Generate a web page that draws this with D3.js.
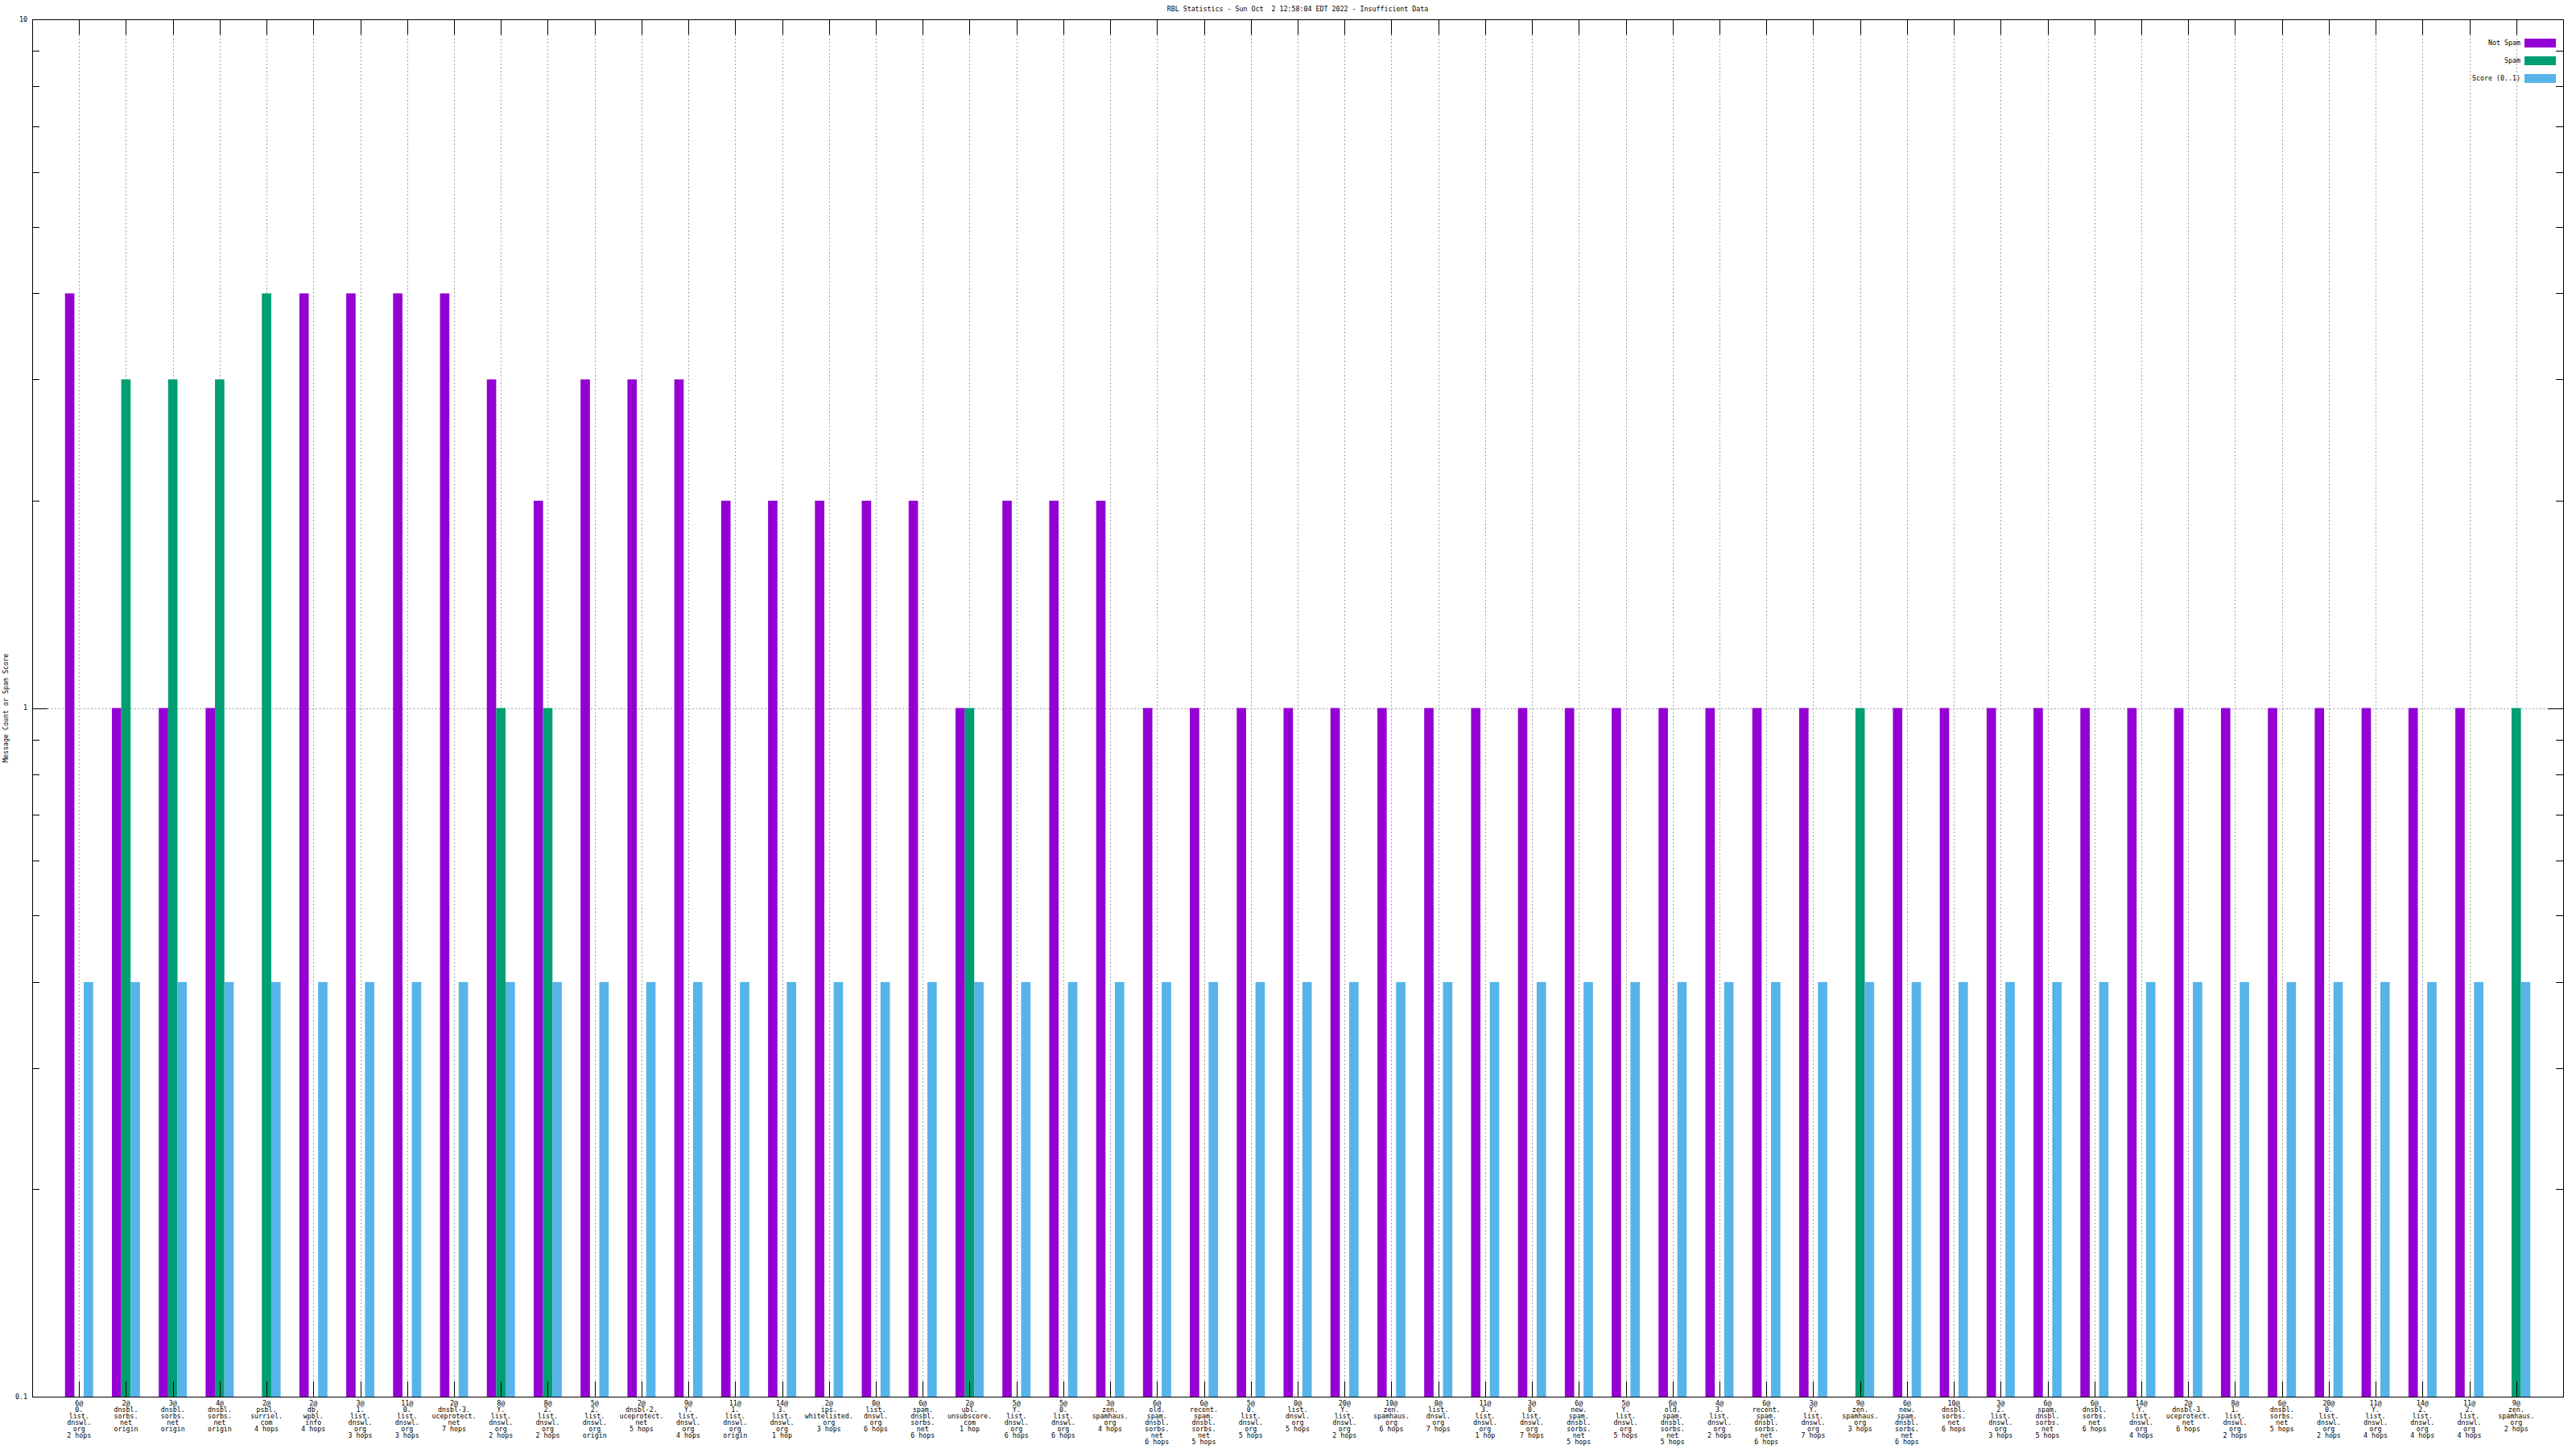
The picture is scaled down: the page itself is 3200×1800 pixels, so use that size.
<!DOCTYPE html>
<html>
<head>
<meta charset="utf-8">
<script src="https://cdn.jsdelivr.net/npm/d3@7"></script>
<style>
html, body { margin: 0; padding: 0; background: #fff; }
svg { display: block; }
text { font-family: "DejaVu Sans Mono", monospace; font-size: 8.3px; fill: #000; white-space: pre; }
</style>
</head>
<body>
<svg id="chart" width="3200" height="1800"></svg>
<script>
const titleText = "RBL Statistics - Sun Oct  2 12:58:04 EDT 2022 - Insufficient Data";
const yAxisLabel = "Message Count or Spam Score";
const seriesNames = ["Not Spam", "Spam", "Score (0..1)"];
const seriesColors = ["#9400d3", "#009e73", "#56b4e9"];

const categories = [
  "6@|0.|list.|dnswl.|org|2 hops",
  "2@|dnsbl.|sorbs.|net|origin",
  "3@|dnsbl.|sorbs.|net|origin",
  "4@|dnsbl.|sorbs.|net|origin",
  "2@|psbl.|surriel.|com|4 hops",
  "2@|db.|wpbl.|info|4 hops",
  "3@|1.|list.|dnswl.|org|3 hops",
  "11@|0.|list.|dnswl.|org|3 hops",
  "2@|dnsbl-3.|uceprotect.|net|7 hops",
  "8@|Y.|list.|dnswl.|org|2 hops",
  "8@|2.|list.|dnswl.|org|2 hops",
  "5@|2.|list.|dnswl.|org|origin",
  "2@|dnsbl-2.|uceprotect.|net|5 hops",
  "9@|Y.|list.|dnswl.|org|4 hops",
  "11@|1.|list.|dnswl.|org|origin",
  "14@|3.|list.|dnswl.|org|1 hop",
  "2@|ips.|whitelisted.|org|3 hops",
  "0@|list.|dnswl.|org|6 hops",
  "6@|spam.|dnsbl.|sorbs.|net|6 hops",
  "2@|ubl.|unsubscore.|com|1 hop",
  "5@|Y.|list.|dnswl.|org|6 hops",
  "5@|0.|list.|dnswl.|org|6 hops",
  "3@|zen.|spamhaus.|org|4 hops",
  "6@|old.|spam.|dnsbl.|sorbs.|net|6 hops",
  "6@|recent.|spam.|dnsbl.|sorbs.|net|5 hops",
  "5@|0.|list.|dnswl.|org|5 hops",
  "0@|list.|dnswl.|org|5 hops",
  "20@|Y.|list.|dnswl.|org|2 hops",
  "10@|zen.|spamhaus.|org|6 hops",
  "0@|list.|dnswl.|org|7 hops",
  "11@|3.|list.|dnswl.|org|1 hop",
  "3@|0.|list.|dnswl.|org|7 hops",
  "6@|new.|spam.|dnsbl.|sorbs.|net|5 hops",
  "5@|Y.|list.|dnswl.|org|5 hops",
  "6@|old.|spam.|dnsbl.|sorbs.|net|5 hops",
  "4@|3.|list.|dnswl.|org|2 hops",
  "6@|recent.|spam.|dnsbl.|sorbs.|net|6 hops",
  "3@|Y.|list.|dnswl.|org|7 hops",
  "9@|zen.|spamhaus.|org|3 hops",
  "6@|new.|spam.|dnsbl.|sorbs.|net|6 hops",
  "10@|dnsbl.|sorbs.|net|6 hops",
  "3@|2.|list.|dnswl.|org|3 hops",
  "6@|spam.|dnsbl.|sorbs.|net|5 hops",
  "6@|dnsbl.|sorbs.|net|6 hops",
  "14@|Y.|list.|dnswl.|org|4 hops",
  "2@|dnsbl-3.|uceprotect.|net|6 hops",
  "8@|1.|list.|dnswl.|org|2 hops",
  "6@|dnsbl.|sorbs.|net|5 hops",
  "20@|0.|list.|dnswl.|org|2 hops",
  "11@|Y.|list.|dnswl.|org|4 hops",
  "14@|2.|list.|dnswl.|org|4 hops",
  "11@|2.|list.|dnswl.|org|4 hops",
  "9@|zen.|spamhaus.|org|2 hops"
];

const notSpam = [4,1,1,1,0,4,4,4,4,3, 2,3,3,3,2,2,2,2,2,1, 2,2,2,1,1,1,1,1,1,1, 1,1,1,1,1,1,1,1,0,1, 1,1,1,1,1,1,1,1,1,1, 1,1,0];
const spam    = [0,3,3,3,4,0,0,0,0,1, 1,0,0,0,0,0,0,0,0,1, 0,0,0,0,0,0,0,0,0,0, 0,0,0,0,0,0,0,0,1,0, 0,0,0,0,0,0,0,0,0,0, 0,0,1];
const score   = [0.4,0.4,0.4,0.4,0.4,0.4,0.4,0.4,0.4,0.4, 0.4,0.4,0.4,0.4,0.4,0.4,0.4,0.4,0.4,0.4,
                 0.4,0.4,0.4,0.4,0.4,0.4,0.4,0.4,0.4,0.4, 0.4,0.4,0.4,0.4,0.4,0.4,0.4,0.4,0.4,0.4,
                 0.4,0.4,0.4,0.4,0.4,0.4,0.4,0.4,0.4,0.4, 0.4,0.4,0.4];

const yTickValues = [0.1, 1, 10];
const yTickLabels = ["0.1", "1", "10"];
const yMinorTicks = [0.2,0.3,0.4,0.5,0.6,0.7,0.8,0.9,2,3,4,5,6,7,8,9];

const series = [notSpam, spam, score];

const L = 40, R = 3184, T = 24, B = 1735;
const svg = d3.select("#chart");

const x = d3.scaleLinear().domain([-1, categories.length]).range([L, R]);
const y = d3.scaleLog().domain([0.1, 10]).range([B, T]);
const bw = (x(1) - x(0)) / 5;

const idx = d3.range(categories.length);

// grid
const grid = svg.append("g").attr("stroke", "#a0a0a0").attr("stroke-width", 1).attr("stroke-dasharray", "2,2.5");
grid.selectAll("line.v").data(idx).join("line")
  .attr("x1", d => Math.round(x(d)) + 0.5).attr("x2", d => Math.round(x(d)) + 0.5)
  .attr("y1", T + 19).attr("y2", B - 19);
grid.append("line")
  .attr("x1", L + 19).attr("x2", R - 19)
  .attr("y1", Math.round(y(1)) + 0.5).attr("y2", Math.round(y(1)) + 0.5);

// bars
series.forEach((vals, j) => {
  svg.append("g").attr("fill", seriesColors[j])
    .selectAll("rect").data(idx.filter(i => vals[i] > 0)).join("rect")
    .attr("x", i => x(i) + (j - 1.5) * bw)
    .attr("width", bw)
    .attr("y", i => y(vals[i]))
    .attr("height", i => B - y(vals[i]));
});

// ticks
const tk = svg.append("g").attr("stroke", "#000").attr("stroke-width", 1);
idx.forEach(i => {
  const xx = Math.round(x(i)) + 0.5;
  tk.append("line").attr("x1", xx).attr("x2", xx).attr("y1", B).attr("y2", B - 19);
  tk.append("line").attr("x1", xx).attr("x2", xx).attr("y1", T).attr("y2", T + 19);
});
yTickValues.forEach(v => {
  const yy = Math.round(y(v)) + 0.5;
  tk.append("line").attr("x1", L).attr("x2", L + 19).attr("y1", yy).attr("y2", yy);
  tk.append("line").attr("x1", R).attr("x2", R - 19).attr("y1", yy).attr("y2", yy);
});
yMinorTicks.forEach(v => {
  const yy = Math.round(y(v)) + 0.5;
  tk.append("line").attr("x1", L).attr("x2", L + 9).attr("y1", yy).attr("y2", yy);
  tk.append("line").attr("x1", R).attr("x2", R - 9).attr("y1", yy).attr("y2", yy);
});

// border
svg.append("rect").attr("x", L + 0.5).attr("y", T + 0.5).attr("width", R - L).attr("height", B - T)
  .attr("fill", "none").attr("stroke", "#000").attr("stroke-width", 1);

// y tick labels
svg.append("g").selectAll("text").data(yTickValues).join("text")
  .attr("x", 34).attr("y", d => y(d)).attr("dy", "0.35em")
  .attr("text-anchor", "end").text((d, k) => yTickLabels[k]);

// x labels
const xl = svg.append("g");
idx.forEach(i => {
  const t = xl.append("text").attr("text-anchor", "middle");
  categories[i].split("|").forEach((line, k) => {
    t.append("tspan").attr("x", x(i)).attr("y", 1746 + 8 * k).text(line);
  });
});

// title
svg.append("text").attr("x", (L + R) / 2).attr("y", 14).attr("text-anchor", "middle")
  .attr("xml:space", "preserve").text(titleText);

// y axis label
svg.append("text").attr("transform", `translate(10,${(T + B) / 2}) rotate(-90)`)
  .attr("text-anchor", "middle").text(yAxisLabel);

// legend
const lg = svg.append("g");
seriesNames.forEach((name, j) => {
  const cy = 53.5 + 22 * j;
  lg.append("rect").attr("x", 3136).attr("y", cy - 5.5).attr("width", 39).attr("height", 11).attr("fill", seriesColors[j]);
  lg.append("text").attr("x", 3131).attr("y", cy).attr("dy", "0.35em").attr("text-anchor", "end").text(name);
});
</script>
</body>
</html>
